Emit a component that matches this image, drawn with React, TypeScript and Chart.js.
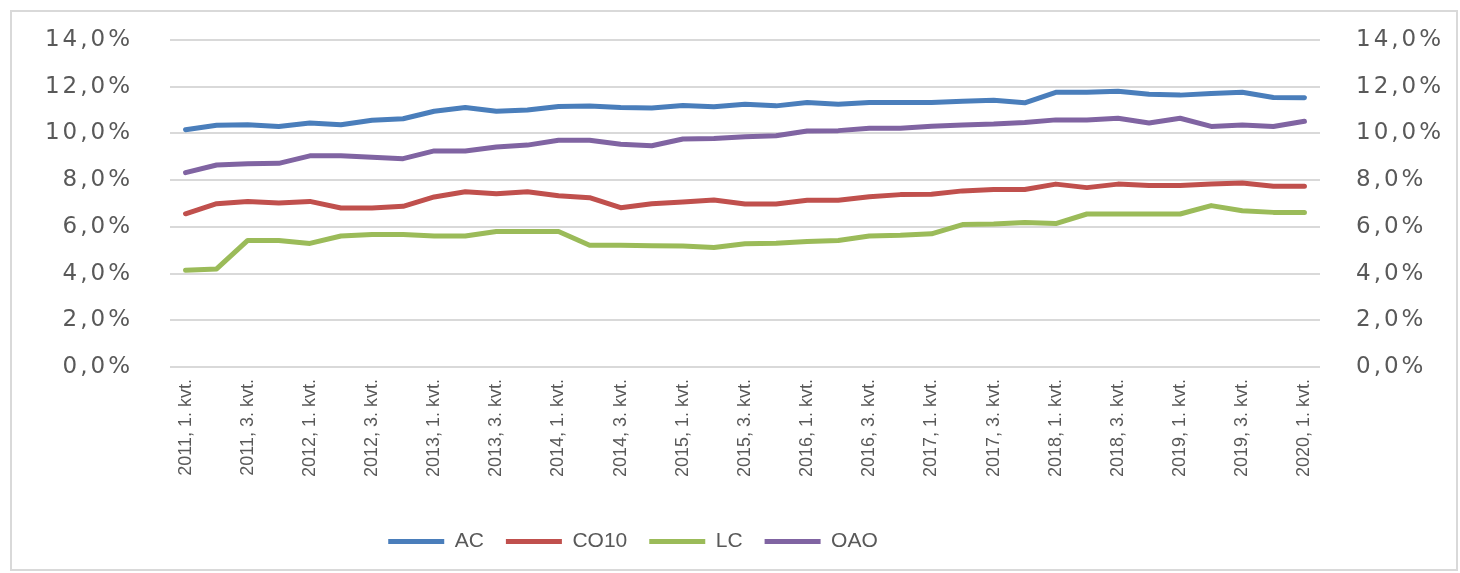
import React, { useEffect, useRef } from "react";
import { Chart, registerables } from "chart.js";

Chart.register(...registerables);

const CATEGORIES = [
  "2011, 1. kvt.", "2011, 2. kvt.", "2011, 3. kvt.", "2011, 4. kvt.",
  "2012, 1. kvt.", "2012, 2. kvt.", "2012, 3. kvt.", "2012, 4. kvt.",
  "2013, 1. kvt.", "2013, 2. kvt.", "2013, 3. kvt.", "2013, 4. kvt.",
  "2014, 1. kvt.", "2014, 2. kvt.", "2014, 3. kvt.", "2014, 4. kvt.",
  "2015, 1. kvt.", "2015, 2. kvt.", "2015, 3. kvt.", "2015, 4. kvt.",
  "2016, 1. kvt.", "2016, 2. kvt.", "2016, 3. kvt.", "2016, 4. kvt.",
  "2017, 1. kvt.", "2017, 2. kvt.", "2017, 3. kvt.", "2017, 4. kvt.",
  "2018, 1. kvt.", "2018, 2. kvt.", "2018, 3. kvt.", "2018, 4. kvt.",
  "2019, 1. kvt.", "2019, 2. kvt.", "2019, 3. kvt.", "2019, 4. kvt.",
  "2020, 1. kvt.",
];

const AC = [10.16, 10.35, 10.37, 10.30, 10.45, 10.37, 10.56, 10.63, 10.95, 11.11, 10.95, 11.00, 11.15, 11.17, 11.11, 11.09, 11.20, 11.14, 11.25, 11.18, 11.32, 11.25, 11.32, 11.32, 11.32, 11.38, 11.42, 11.31, 11.76, 11.76, 11.81, 11.68, 11.64, 11.71, 11.76, 11.54, 11.53];
const CO10 = [6.56, 6.99, 7.09, 7.02, 7.09, 6.81, 6.81, 6.88, 7.28, 7.50, 7.42, 7.50, 7.33, 7.25, 6.82, 6.99, 7.06, 7.15, 6.98, 6.98, 7.14, 7.14, 7.29, 7.38, 7.40, 7.54, 7.60, 7.60, 7.83, 7.68, 7.83, 7.77, 7.77, 7.83, 7.88, 7.74, 7.74];
const LC = [4.14, 4.20, 5.42, 5.42, 5.29, 5.61, 5.67, 5.67, 5.61, 5.61, 5.80, 5.80, 5.80, 5.21, 5.21, 5.19, 5.18, 5.12, 5.28, 5.30, 5.37, 5.42, 5.61, 5.64, 5.70, 6.10, 6.12, 6.19, 6.14, 6.55, 6.55, 6.55, 6.55, 6.91, 6.69, 6.62, 6.62];
const OAO = [8.32, 8.65, 8.70, 8.72, 9.04, 9.04, 8.98, 8.92, 9.25, 9.25, 9.42, 9.50, 9.71, 9.71, 9.54, 9.47, 9.76, 9.78, 9.86, 9.90, 10.10, 10.12, 10.22, 10.22, 10.31, 10.36, 10.40, 10.47, 10.58, 10.58, 10.65, 10.45, 10.65, 10.30, 10.36, 10.30, 10.52];

const SERIES_NAMES = ["AC", "CO10", "LC", "OAO"];
const SERIES_COLORS = ["#4a7ebb", "#c0504d", "#9bbb59", "#8064a2"];
const SERIES_VALUES = [AC, CO10, LC, OAO];

const Y_MIN = 0;
const Y_MAX = 14;
const Y_STEP = 2;

const TEXT_COLOR = "#595959";
const GRID_COLOR = "#d9d9d9";

const fmtPct = (v: any) => Number(v).toFixed(1).replace(".", ",") + "%";

const legendShift = {
  id: "legendShift",
  afterLayout(chart: any) {
    const lg = chart.legend;
    if (lg) {
      lg.left -= 97;
      lg.right -= 97;
    }
  },
};

// wider tracking for the value-axis labels (drawn after datasets, z = 1)
const tickSpacing = {
  id: "tickSpacing",
  afterDatasetsDraw(chart: any) {
    try {
      (chart.ctx as any).letterSpacing = "3px";
    } catch (e) {}
  },
  afterDraw(chart: any) {
    try {
      (chart.ctx as any).letterSpacing = "0px";
    } catch (e) {}
  },
};

export default function App() {
  const canvasRef = useRef<HTMLCanvasElement | null>(null);

  useEffect(() => {
    const canvas = canvasRef.current;
    if (!canvas) return;
    const tickFontY = { family: "'DejaVu Sans', sans-serif", size: 23 };
    const chart = new Chart(canvas, {
      type: "line",
      data: {
        labels: CATEGORIES,
        datasets: SERIES_NAMES.map((name, i) => ({
          label: name,
          data: SERIES_VALUES[i],
          borderColor: SERIES_COLORS[i],
          backgroundColor: SERIES_COLORS[i],
          borderWidth: 5,
          pointRadius: 0,
          pointHoverRadius: 0,
          tension: 0,
          borderCapStyle: "round",
          borderJoinStyle: "round",
          fill: false,
          yAxisID: "y",
        })),
      },
      options: {
        responsive: false,
        animation: false,
        devicePixelRatio: 1,
        layout: { padding: { left: 12, right: 12, top: 40, bottom: 11 } },
        plugins: {
          tooltip: { enabled: false },
          legend: {
            position: "bottom",
            labels: {
              usePointStyle: true,
              pointStyle: "line",
              pointStyleWidth: 56,
              padding: 22,
              color: TEXT_COLOR,
              font: { family: "'Liberation Sans', sans-serif", size: 21 },
            },
          },
        },
        scales: {
          x: {
            type: "category",
            offset: true,
            grid: { display: false, drawTicks: false },
            border: { display: false },
            ticks: {
              autoSkip: false,
              maxRotation: 90,
              minRotation: 90,
              padding: 12,
              color: TEXT_COLOR,
              font: { family: "'Liberation Sans', sans-serif", size: 18 },
              callback: (_v: any, idx: number) => (idx % 2 === 0 ? CATEGORIES[idx] : ""),
            },
            afterFit: (s: any) => {
              s.height = 142;
            },
          },
          y: {
            position: "left",
            min: Y_MIN,
            max: Y_MAX,
            grid: {
              color: GRID_COLOR,
              lineWidth: 2,
              drawTicks: true,
              tickLength: 34,
              tickColor: "rgba(0,0,0,0)",
            },
            border: { display: false },
            ticks: {
              z: 1,
              stepSize: Y_STEP,
              padding: 3,
              color: TEXT_COLOR,
              font: tickFontY,
              callback: fmtPct,
            },
            afterFit: (s: any) => {
              s.width = 158;
            },
          },
          y1: {
            position: "right",
            min: Y_MIN,
            max: Y_MAX,
            grid: {
              display: false,
              drawTicks: true,
              tickLength: 33,
              tickColor: "rgba(0,0,0,0)",
            },
            border: { display: false },
            ticks: {
              z: 1,
              stepSize: Y_STEP,
              padding: 3,
              color: TEXT_COLOR,
              font: tickFontY,
              callback: fmtPct,
            },
            afterFit: (s: any) => {
              s.width = 128;
            },
          },
        },
      },
      plugins: [legendShift, tickSpacing],
    } as any);
    return () => chart.destroy();
  }, []);

  return (
    <div
      style={{
        position: "fixed",
        left: 0,
        top: 0,
        width: 1460,
        height: 573,
        background: "#ffffff",
        overflow: "hidden",
      }}
    >
      <div
        style={{
          position: "absolute",
          left: 10,
          top: 10,
          width: 1448,
          height: 561,
          boxSizing: "border-box",
          border: "2px solid #d9d9d9",
          pointerEvents: "none",
        }}
      />
      <canvas
        ref={canvasRef}
        width={1460}
        height={573}
        style={{ position: "absolute", left: 0, top: 0, display: "block" }}
      />
    </div>
  );
}
